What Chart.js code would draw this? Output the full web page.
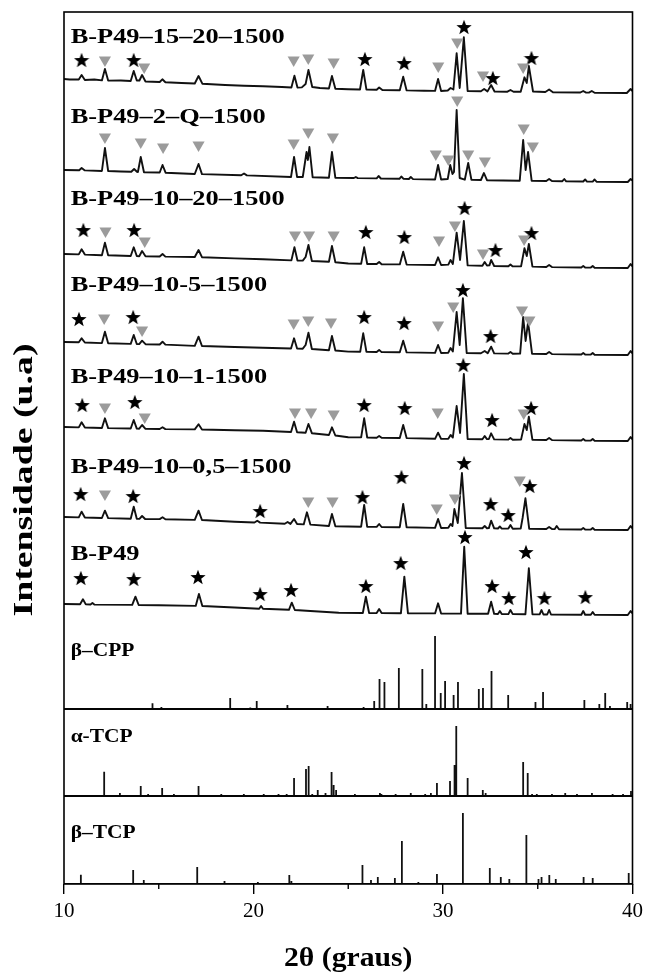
<!DOCTYPE html>
<html>
<head>
<meta charset="utf-8">
<script src="https://cdn.jsdelivr.net/npm/chart.js@4.4.0/dist/chart.umd.min.js"></script>
<style>
  html, body { margin: 0; padding: 0; background: #fff; }
  canvas { display: block; }
</style>
</head>
<body>
<canvas id="xrdChart" width="648" height="974"></canvas>
<script>
// sample names, top to bottom
const sampleNames = ["B-P49–15–20–1500", "B-P49–2–Q–1500", "B-P49–10–20–1500", "B-P49–10-5–1500",
  "B-P49–10–1-1500", "B-P49–10–0,5–1500", "B-P49"];
const refNames = ["β–CPP", "α-TCP", "β–TCP"];

// measured patterns: [2theta, intensity (a.u.)]
const pat1520 = [[10,14],[10.3,13.5],[10.78,13.5],[10.93,18],[11.1,13],[11.6,13.5],[12.0,12.6],[12.16,24],[12.33,12.4],[13.0,12.5],[13.52,12],[13.68,22],[13.84,12.5],[13.98,12.5],[14.12,18],[14.3,11.5],[15.05,11],[15.19,13.7],[15.35,10.8],[16.2,10],[16.9,9.5],[17.1,17],[17.3,9.3],[18.5,8],[19.5,7.2],[20.5,6.8],[21.5,6],[22.0,5.5],[22.16,17.3],[22.32,5.4],[22.55,5.6],[22.75,9],[22.9,23],[23.1,6],[23.5,5],[23.98,4.5],[24.14,17],[24.32,4.2],[25,3.8],[25.62,3.5],[25.79,23],[25.96,3.4],[26.5,3.2],[26.63,5.5],[26.8,3],[27.72,2.8],[27.9,16.3],[28.08,2.6],[29,2.3],[29.58,2.1],[29.74,14],[29.9,2],[30.25,2.5],[30.4,5],[30.55,3.5],[30.72,39.7],[30.88,5],[31.1,55.7],[31.3,2],[32.0,1.7],[32.17,4],[32.35,1.6],[32.54,8],[32.72,1.5],[33.4,1.3],[33.56,3],[33.72,1.2],[34.1,1.3],[34.3,15.7],[34.42,10],[34.53,27],[34.75,1.5],[35.4,1],[35.6,3.5],[35.8,0.8],[37.25,0.5],[37.4,2],[37.55,0.4],[37.7,0.4],[37.85,2],[38,0.3],[39.7,0],[39.9,4],[40,2]];
const pat2Q = [[10,12],[10.8,11.8],[10.93,14],[11.1,11.6],[12.0,11],[12.16,34],[12.33,11],[13.0,10.5],[13.55,10.2],[13.7,13],[13.85,10.2],[13.9,10],[14.05,25],[14.22,9.8],[15.05,9.5],[15.2,17],[15.36,9.3],[16.9,8],[17.1,18],[17.28,7.9],[19.35,6.7],[19.5,8.5],[19.65,6.6],[21.98,5],[22.14,25],[22.3,5],[22.6,5],[22.8,30],[22.87,22],[22.95,35],[23.12,4.8],[23.98,4.3],[24.14,30],[24.32,4.2],[25.3,4],[25.4,5],[25.5,3.9],[26.5,3.6],[26.6,6],[26.72,3.5],[27.7,3.2],[27.8,5.5],[27.92,3.1],[28.2,3],[28.3,5],[28.42,2.9],[29.58,2.5],[29.74,17],[29.9,2.5],[30.25,3],[30.38,17],[30.5,8],[30.58,10],[30.72,72],[30.88,4],[31.15,2.3],[31.33,19],[31.5,2.2],[32.0,2],[32.16,9],[32.32,1.8],[34.05,1.3],[34.23,42],[34.36,12],[34.49,30],[34.68,1.2],[35.45,1],[35.6,3],[35.75,0.9],[36.3,0.8],[36.4,3],[36.5,0.7],[37.4,0.5],[37.5,2.5],[37.6,0.4],[37.9,0.4],[38.0,2.5],[38.1,0.3],[39.75,0],[39.9,3],[40,1.5]];
const pat1020 = [[10,14],[10.78,13.6],[10.93,18.7],[11.1,13.4],[12.0,12.8],[12.16,25.3],[12.33,12.7],[13.52,12],[13.68,20.7],[13.84,12],[13.97,11.8],[14.12,17],[14.3,11.7],[15.05,11.5],[15.2,14],[15.35,11.4],[16.9,11],[17.1,18],[17.28,10.8],[19,9.6],[20.5,8.8],[22.0,7.6],[22.16,20.7],[22.32,7.5],[22.6,7.4],[22.75,11],[22.9,23],[23.08,7],[23.98,6.2],[24.14,22],[24.32,5.8],[25,4.5],[25.68,4.2],[25.84,20.7],[26.0,4],[26.5,4],[26.63,6],[26.76,3.8],[27.72,3.6],[27.9,16.3],[28.08,3.4],[29.58,3],[29.74,10.7],[29.9,3],[30.28,3.4],[30.4,8],[30.52,4],[30.72,35.3],[30.9,8],[31.1,47],[31.3,2.6],[32.08,2.2],[32.2,6],[32.32,2.5],[32.45,2.6],[32.54,8],[32.7,2],[33.45,1.7],[33.56,3.5],[33.68,1.6],[34.12,1.6],[34.3,19.7],[34.42,12],[34.53,24],[34.72,1.4],[35.45,1],[35.6,3],[35.75,0.9],[37.3,0.5],[37.4,2],[37.5,0.4],[37.8,0.4],[37.9,2],[38,0.3],[39.75,0],[39.9,4],[40,1.5]];
const pat105 = [[10,13],[10.78,12.7],[10.93,16.7],[11.1,12.5],[12.0,11.9],[12.16,23.3],[12.33,11.8],[13.52,11.1],[13.68,20],[13.84,11],[13.97,10.9],[14.12,14.3],[14.3,10.8],[15.05,10.5],[15.2,13.3],[15.35,10.4],[16.9,9.1],[17.1,18.3],[17.28,9],[19,8],[20.5,7.2],[21.98,6.5],[22.14,16.7],[22.3,6.4],[22.6,6.3],[22.75,10],[22.9,22.3],[23.08,6],[23.98,4.8],[24.14,19],[24.32,4.5],[25,3.4],[25.63,3.2],[25.79,21.7],[25.96,3.1],[26.5,3],[26.63,5],[26.76,2.9],[27.72,2.7],[27.9,14.3],[28.08,2.6],[29.58,2.1],[29.74,10],[29.9,2],[30.28,2.3],[30.4,7],[30.52,3.5],[30.72,43],[30.88,10],[31.05,56.7],[31.25,2],[32.0,1.8],[32.2,4],[32.36,1.8],[32.54,8.3],[32.7,1.6],[33.45,1.4],[33.56,3],[33.68,1.3],[34.07,1.4],[34.23,38],[34.36,14],[34.49,33],[34.7,1.2],[35.45,1],[35.6,3],[35.75,0.9],[37.3,0.5],[37.4,2],[37.5,0.4],[37.8,0.4],[37.9,2],[38,0.3],[39.75,0],[39.9,4],[40,1.5]];
const pat101 = [[10,14],[10.78,13.6],[10.93,18.7],[11.1,13.5],[12.0,13],[12.16,22.7],[12.33,12.9],[13.52,12.5],[13.68,21],[13.84,12.4],[13.97,12.3],[14.12,16],[14.3,12.2],[15.05,12],[15.2,13.7],[15.35,11.9],[16.9,11.6],[17.1,16.7],[17.28,11.5],[19,10.8],[20.5,10.2],[21.98,9],[22.14,19.3],[22.3,8.8],[22.75,8.2],[22.9,17],[23.08,7.8],[23.98,6],[24.14,13.7],[24.32,5.5],[25,3.8],[25.68,3.6],[25.84,22.7],[26.0,3.5],[26.5,3.3],[26.63,5],[26.76,3.2],[27.72,3],[27.9,16],[28.08,2.9],[29.58,2.2],[29.74,8.3],[29.9,2.1],[30.28,2.3],[30.4,6],[30.52,3.5],[30.72,35],[30.9,8],[31.1,67],[31.3,2],[32.08,1.8],[32.2,5],[32.32,1.9],[32.42,2],[32.54,7.7],[32.7,1.6],[33.45,1.4],[33.56,3],[33.68,1.3],[34.12,1.4],[34.3,17],[34.42,11],[34.53,24.3],[34.72,1.2],[35.45,1],[35.6,3],[35.75,0.9],[37.3,0.5],[37.4,2],[37.5,0.4],[37.8,0.4],[37.9,2],[38,0.3],[39.75,0],[39.9,4],[40,1.5]];
const pat1005 = [[10,13],[10.78,12.6],[10.93,18.3],[11.1,12.5],[12.0,12],[12.16,19.3],[12.33,11.9],[13.52,11.3],[13.68,23.3],[13.84,11.2],[13.98,11.1],[14.12,14],[14.28,11],[15.05,10.9],[15.2,12.7],[15.35,10.8],[16.9,10.1],[17.1,19.3],[17.28,10],[19,8.3],[20.05,7.5],[20.2,9.3],[20.35,7.4],[21.65,6.2],[21.8,8],[21.95,6.1],[22.14,11],[22.3,6],[22.65,5.6],[22.82,17.7],[23.0,5.4],[23.98,4],[24.14,16],[24.32,3.8],[25,3.5],[25.68,3.3],[25.84,25],[26.0,3.2],[26.5,3.1],[26.63,6],[26.76,3],[27.72,2.8],[27.9,26],[28.08,2.7],[29.58,2.1],[29.74,11],[29.9,2],[30.28,2.2],[30.4,6],[30.5,4],[30.6,21],[30.78,7],[31.0,57],[31.2,2],[32.08,1.8],[32.2,4],[32.32,1.8],[32.42,1.9],[32.54,9.3],[32.7,1.6],[32.9,1.5],[33.0,3.5],[33.1,1.4],[33.45,1.4],[33.56,5],[33.68,1.3],[34.1,1.4],[34.2,12],[34.35,31.7],[34.55,1.2],[35.45,1],[35.6,3],[35.75,0.9],[35.9,0.9],[36.0,4],[36.12,0.8],[37.3,0.5],[37.4,2],[37.5,0.4],[37.8,0.4],[37.9,2],[38,0.3],[39.75,0],[39.9,4],[40,1.5]];
const patBP49 = [[10,11],[10.85,10.7],[11.0,15.7],[11.15,10.6],[11.4,10.5],[11.5,12],[11.6,10.4],[13.6,10.1],[13.77,18.3],[13.94,10],[15,9.8],[16.95,9.1],[17.12,21],[17.3,9],[19,7.5],[20.3,6.3],[20.4,9],[20.5,6.2],[21.87,5.2],[22.02,12.3],[22.18,5],[23,4],[24.5,2.3],[25.77,2],[25.93,18.3],[26.1,2],[26.5,1.9],[26.63,6],[26.76,1.9],[27.78,1.8],[27.96,38.3],[28.15,1.8],[29.58,1.6],[29.74,11.7],[29.9,1.5],[30.95,1.4],[31.12,68.3],[31.3,1.3],[32.38,1.2],[32.54,13.3],[32.7,1.1],[32.9,1],[33.0,4],[33.1,1],[33.45,0.9],[33.56,5],[33.68,0.9],[34.35,0.8],[34.53,46.7],[34.72,0.7],[35.1,0.6],[35.2,5],[35.3,0.5],[35.5,0.5],[35.6,5],[35.7,0.5],[37.3,0.3],[37.4,4],[37.5,0.3],[37.8,0.2],[37.9,3],[38,0.2],[39.75,0],[39.9,4],[40,1.5]];

// phase markers: [2theta, height above baseline]
const stars1520 = [[10.93,33],[13.68,33],[25.88,34],[27.95,30],[31.11,66],[32.63,15],[34.67,35]];
const tris1520 = [[12.16,33],[14.23,26],[22.12,33],[22.89,35],[24.23,31],[29.75,27],[30.75,51],[32.11,18],[34.23,26]];
const stars2Q = [];
const tris2Q = [[12.16,45],[14.05,40],[15.23,35],[17.1,37],[22.12,39],[22.89,50],[24.19,45],[29.62,28],[30.28,23],[30.75,82],[31.33,28],[32.21,21],[34.26,54],[34.74,36]];
const stars1020 = [[11.02,38],[13.7,38],[25.93,36],[27.96,31],[31.14,60],[32.77,18],[34.67,35]];
const tris1020 = [[12.19,37],[14.26,27],[22.19,33],[22.93,33],[24.23,33],[29.79,28],[30.63,43],[32.11,15],[34.28,29]];
const stars105 = [[10.79,36],[13.65,38],[25.84,38],[27.95,32],[31.05,65],[32.51,19]];
const tris105 = [[12.12,37],[14.12,25],[22.12,32],[22.89,35],[24.09,33],[29.74,30],[30.54,49],[34.17,45],[34.56,35]];
const stars101 = [[10.96,36],[13.74,39],[25.84,36],[27.98,33],[31.07,76],[32.59,21],[34.65,33]];
const tris101 = [[12.16,34],[14.26,24],[22.19,29],[23.04,29],[24.23,27],[29.72,29],[34.26,28]];
const stars1005 = [[10.88,36],[13.65,34],[20.35,19],[25.75,33],[27.81,53],[31.11,67],[32.51,26],[33.44,15],[34.58,44]];
const tris1005 = [[12.16,36],[22.89,29],[24.17,29],[29.67,22],[30.63,32],[34.05,50]];
const starsBP49 = [[10.89,37],[13.68,36],[17.07,38],[20.35,21],[21.98,25],[25.93,29],[27.77,52],[31.16,78],[32.59,29],[33.47,17],[34.38,63],[35.35,17],[37.51,18]];
const trisBP49 = [];

// reference sticks
const cppPos = [14.67,15.14,18.77,19.83,20.17,21.79,23.91,25.81,26.37,26.65,26.91,27.67,28.91,29.12,29.58,29.88,30.11,30.56,30.79,31.89,32.11,32.56,33.44,34.88,35.28,36.02,37.46,38.25,38.56,38.81,39.72,39.9];
const cppInt = [5.7,2,11,1.5,8,4,3,2,8,30,27,41,40,5,73,16,28,14,27,20,21,38,14,7,17,1,9,5,16,3,7,5];
const aTcpPos = [12.12,12.95,14.05,14.44,15.18,15.8,17.1,18.3,19.49,20.54,21.32,21.75,22.14,22.77,22.91,23.1,23.39,23.8,24.12,24.23,24.36,25.35,26.67,26.75,27.5,28.3,29.06,29.36,29.68,30.0,30.37,30.61,30.7,31.3,32.1,32.25,34.23,34.47,34.7,34.95,35.75,36.45,37.07,37.86,38.95,39.5,39.92];
const aTcpInt = [24.3,3,10,2,8,2,10,2,2,2,2,2,18,27,30,2,6,3,24,11,6,2,3,2,2,3,2,3,13,1,15,31,70,18,6,3,34,23,2,2,2,3,2,3,2,2,5];
const bTcpPos = [10.89,13.65,14.21,17.03,18.47,20.23,21.89,22.0,25.75,26.2,26.56,27.46,27.83,28.7,29.68,31.05,32.47,33.05,33.5,34.4,35.04,35.2,35.61,35.95,37.42,37.9,39.8];
const bTcpInt = [9.3,14,4,17,3,2,9,3,19,4,7,6,43,2,10,71,16,7,5,49,5,7,9,5,7,6,11];

const xTicks = [10, 20, 30, 40];

// layout
const patterns = [pat1520, pat2Q, pat1020, pat105, pat101, pat1005, patBP49];
const starSets = [stars1520, stars2Q, stars1020, stars105, stars101, stars1005, starsBP49];
const triSets = [tris1520, tris2Q, tris1020, tris105, tris101, tris1005, trisBP49];
const stackOffsets = [791, 702, 616, 529, 443, 354, 269];
const labelY = [841, 761, 679, 593, 501, 411, 324];
const refOffsets = [175, 88, 0];
const refLabelY = [228, 142, 46];
const serif = "'Liberation Serif', 'Times New Roman', serif";

function makeStar(size) {
  const c = document.createElement('canvas');
  c.width = size; c.height = size;
  const g = c.getContext('2d');
  const R = size / 2, r = R * 0.42;
  g.beginPath();
  for (let i = 0; i < 10; i++) {
    const a = -Math.PI / 2 + i * Math.PI / 5;
    const rad = i % 2 === 0 ? R : r;
    g.lineTo(R + Math.cos(a) * rad, R + 0.7 + Math.sin(a) * rad);
  }
  g.closePath();
  g.fillStyle = '#000';
  g.fill();
  return c;
}
const starImg = makeStar(16);

function sticks(pos, hts, off) {
  const pts = [{ x: 10, y: off }];
  pos.forEach((p, i) => {
    pts.push({ x: p, y: off }, { x: p, y: off + hts[i] }, { x: p, y: off });
  });
  pts.push({ x: 40, y: off });
  return pts;
}

const datasets = [];
patterns.forEach((pat, i) => {
  const off = stackOffsets[i];
  datasets.push({
    data: pat.map(([x, y]) => ({ x, y: y + off })),
    borderColor: '#111', borderWidth: 1.9, pointRadius: 0, tension: 0,
    borderJoinStyle: 'round', order: 2
  });
  datasets.push({
    data: triSets[i].map(([x, y]) => ({ x, y: y + off })),
    showLine: false, pointStyle: 'triangle', rotation: 180, pointRadius: 7,
    backgroundColor: '#9b9b9b', borderWidth: 0, order: 1
  });
  datasets.push({
    data: starSets[i].map(([x, y]) => ({ x, y: y + off })),
    showLine: false, pointStyle: starImg, pointRadius: 8, order: 1
  });
});
[[cppPos, cppInt], [aTcpPos, aTcpInt], [bTcpPos, bTcpInt]].forEach(([p, h], i) => {
  datasets.push({
    data: sticks(p, h, refOffsets[i]),
    borderColor: '#111', borderWidth: 1.8, pointRadius: 0, tension: 0, order: 2
  });
});

function stretchedText(ctx, text, x, y, sx) {
  ctx.save();
  ctx.translate(x, y);
  ctx.scale(sx, 1);
  ctx.fillText(text, 0, 0);
  ctx.restore();
}

const decorPlugin = {
  id: 'decor',
  afterDraw(chart) {
    const { ctx, chartArea: a, scales: { x, y } } = chart;
    ctx.save();
    ctx.strokeStyle = '#000';
    ctx.lineWidth = 1.6;
    ctx.strokeRect(a.left, a.top, a.right - a.left, a.bottom - a.top);
    // panel separators
    refOffsets.slice(0, 2).forEach(v => {
      const py = y.getPixelForValue(v);
      ctx.beginPath(); ctx.moveTo(a.left, py); ctx.lineTo(a.right, py); ctx.stroke();
    });
    // minor ticks
    ctx.lineWidth = 1.4;
    [15, 25, 35].forEach(v => {
      const px = x.getPixelForValue(v);
      ctx.beginPath(); ctx.moveTo(px, a.bottom); ctx.lineTo(px, a.bottom + 5); ctx.stroke();
    });
    // labels
    ctx.fillStyle = '#000';
    ctx.textBaseline = 'alphabetic';
    ctx.textAlign = 'left';
    ctx.font = 'bold 22px ' + serif;
    sampleNames.forEach((t, i) => stretchedText(ctx, t, x.getPixelForValue(10.35), y.getPixelForValue(labelY[i]), 1.2));
    ctx.font = 'bold 19px ' + serif;
    refNames.forEach((t, i) => stretchedText(ctx, t, x.getPixelForValue(10.35), y.getPixelForValue(refLabelY[i]), 1.13));
    // axis titles
    ctx.font = 'bold 27px ' + serif;
    ctx.textAlign = 'center';
    stretchedText(ctx, '2θ (graus)', (a.left + a.right) / 2, 966, 1.1);
    ctx.translate(32, 480);
    ctx.rotate(-Math.PI / 2);
    stretchedText(ctx, 'Intensidade (u.a)', 0, 0, 1.4);
    ctx.restore();
  }
};

new Chart(document.getElementById('xrdChart'), {
  type: 'line',
  data: { datasets },
  options: {
    responsive: false,
    animation: false,
    devicePixelRatio: 1,
    layout: { padding: { left: 64, right: 14, top: 12, bottom: 0 } },
    plugins: { legend: { display: false }, tooltip: { enabled: false } },
    scales: {
      x: {
        type: 'linear', min: 10, max: 40,
        afterBuildTicks: s => { s.ticks = xTicks.map(v => ({ value: v })); },
        afterFit: s => { s.height = 90; },
        border: { display: false },
        grid: { display: true, drawOnChartArea: false, drawTicks: true, tickLength: 10, color: '#000', lineWidth: 1.4 },
        ticks: { color: '#000', padding: 5, font: { family: serif, size: 21 } }
      },
      y: { type: 'linear', min: 0, max: 872, display: false }
    }
  },
  plugins: [decorPlugin]
});
</script>
</body>
</html>
